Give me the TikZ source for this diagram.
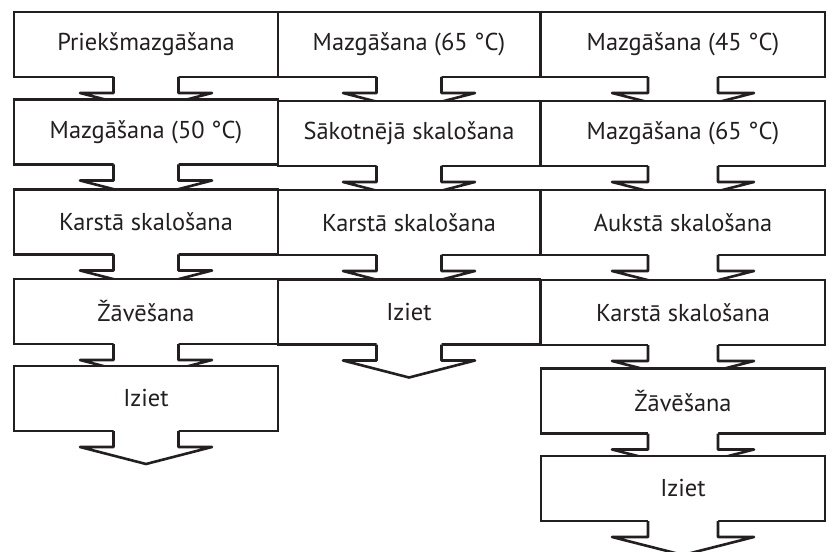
\documentclass[tikz,border=0pt]{standalone}
\usepackage{fontspec}
\setmainfont{PT Sans}
\usepackage{xcolor}
\usetikzlibrary{calc}
\definecolor{inkD}{HTML}{231F20}
\tikzset{
  stepbox/.style={draw=inkD, fill=white, line width=2.6bp, minimum height=65bp,
                  inner sep=0pt, outer sep=0pt, text=inkD,
                  font=\fontsize{24.5}{27}\selectfont},
  colA/.style={stepbox, minimum width=264bp},
  colB/.style={stepbox, minimum width=262bp},
  colC/.style={stepbox, minimum width=284bp},
  shaft/.style={draw=inkD, line width=2.6bp, line join=round},
}
% arrow out of the bottom of a step: node, half shaft, half barb, tip depth
\newcommand{\stepflow}[4]{%
  \fill[white] ($(#1.south)+(-#2,-2.5)$) -- ($(#1.south)+(-#2,16)$)
    -- ($(#1.south)+(-#3,16)$) -- ($(#1.south)+(0,#4)$)
    -- ($(#1.south)+(#3,16)$) -- ($(#1.south)+(#2,16)$)
    -- ($(#1.south)+(#2,-2.5)$) -- cycle;
  \draw[shaft] ($(#1.south)+(-#2,0)$) -- ($(#1.south)+(-#2,16)$)
    -- ($(#1.south)+(-#3,16)$) -- ($(#1.south)+(0,#4)$)
    -- ($(#1.south)+(#3,16)$) -- ($(#1.south)+(#2,16)$)
    -- ($(#1.south)+(#2,0)$);
}

\begin{document}
\begin{tikzpicture}[x=1bp, y=-1bp]
  \useasboundingbox (0,0) rectangle (835,552);
  % first programme (left)
  \node[colA] (preA) at (146,44.5) {Priekšmazgāšana};
  \stepflow{preA}{32.5}{66}{33}
  \node[colA] (washA) at (146,132) {Mazgāšana (50 °C)};
  \stepflow{washA}{32.5}{66}{33}
  \node[colA] (hotA) at (146,222) {Karstā skalošana};
  \stepflow{hotA}{32.5}{66}{33}
  \node[colA] (dryA) at (146,311.5) {Žāvēšana};
  \stepflow{dryA}{32.5}{66}{33}
  \node[colA] (exitA) at (146,398.5) {Iziet};
  \stepflow{exitA}{32.5}{66}{33}
  % second programme (middle)
  \node[colB] (washB) at (409,44.5) {Mazgāšana (65 °C)};
  \stepflow{washB}{32.5}{66}{33}
  \node[colB] (preB) at (409,133.5) {Sākotnējā skalošana};
  \stepflow{preB}{32.5}{66}{33}
  \node[colB] (hotB) at (409,222.5) {Karstā skalošana};
  \stepflow{hotB}{32.5}{66}{33}
  \node[colB] (exitB) at (409,312) {Iziet};
  \stepflow{exitB}{32.5}{66}{33}
  % third programme (right)
  \node[colC] (washC) at (683,44.5) {Mazgāšana (45 °C)};
  \stepflow{washC}{35}{71}{34}
  \node[colC] (hotwashC) at (683,133.5) {Mazgāšana (65 °C)};
  \stepflow{hotwashC}{35}{71}{34}
  \node[colC] (coldC) at (683,222.5) {Aukstā skalošana};
  \stepflow{coldC}{35}{71}{34}
  \node[colC] (hotC) at (683,312.5) {Karstā skalošana};
  \stepflow{hotC}{35}{71}{34}
  \node[colC] (dryC) at (683,401) {Žāvēšana};
  \stepflow{dryC}{35}{71}{34}
  \node[colC] (exitC) at (683,488.5) {Iziet};
  \stepflow{exitC}{35}{71}{34}
\end{tikzpicture}
\end{document}
